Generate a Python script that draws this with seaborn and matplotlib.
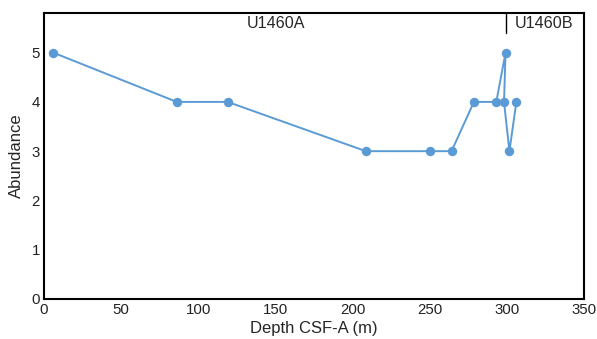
import matplotlib
matplotlib.use("Agg")
import matplotlib.pyplot as plt
import seaborn as sns
import pandas as pd

depth = [6, 86, 119, 208.5, 250, 264, 278.5, 293, 299, 298, 301.5, 306]
abundance = [5, 4, 4, 3, 3, 3, 4, 4, 5, 4, 3, 4]
hole_boundary = 299
hole_labels = ["U1460A", "U1460B"]
x_ticks = [0, 50, 100, 150, 200, 250, 300, 350]
y_ticks = [0, 1, 2, 3, 4, 5]

sns.set_theme(style="white")
plt.rcParams['font.family'] = ['Liberation Sans', 'DejaVu Sans']

df = pd.DataFrame({"depth": depth, "abundance": abundance})

fig = plt.figure(figsize=(5.97, 3.39), dpi=100)
ax = fig.add_axes([0.0737, 0.118, 0.905, 0.843])
color = "#5b9bd5"
sns.lineplot(data=df, x="depth", y="abundance", sort=False, ax=ax,
             color=color, linewidth=1.4, marker="o", markersize=6.8,
             markeredgewidth=0, estimator=None)

ax.set_xlim(0, 350)
ax.set_ylim(0, 5.8)
ax.set_xticks(x_ticks)
ax.set_yticks(y_ticks)
ax.tick_params(length=0, labelsize=10.8, colors="#222222", pad=3)
for s in ax.spines.values():
    s.set_color("black")
    s.set_linewidth(1.5)
ax.set_xlabel("Depth CSF-A (m)", fontsize=12, labelpad=3)
ax.set_ylabel("Abundance", fontsize=12, labelpad=5)

ax.plot([hole_boundary, hole_boundary], [5.4, 5.8], color="black", linewidth=1)
ax.text(150, 5.6, hole_labels[0], ha="center", va="center", fontsize=11.6)
ax.text(324, 5.6, hole_labels[1], ha="center", va="center", fontsize=11.6)

fig.savefig("out.png", dpi=100)
